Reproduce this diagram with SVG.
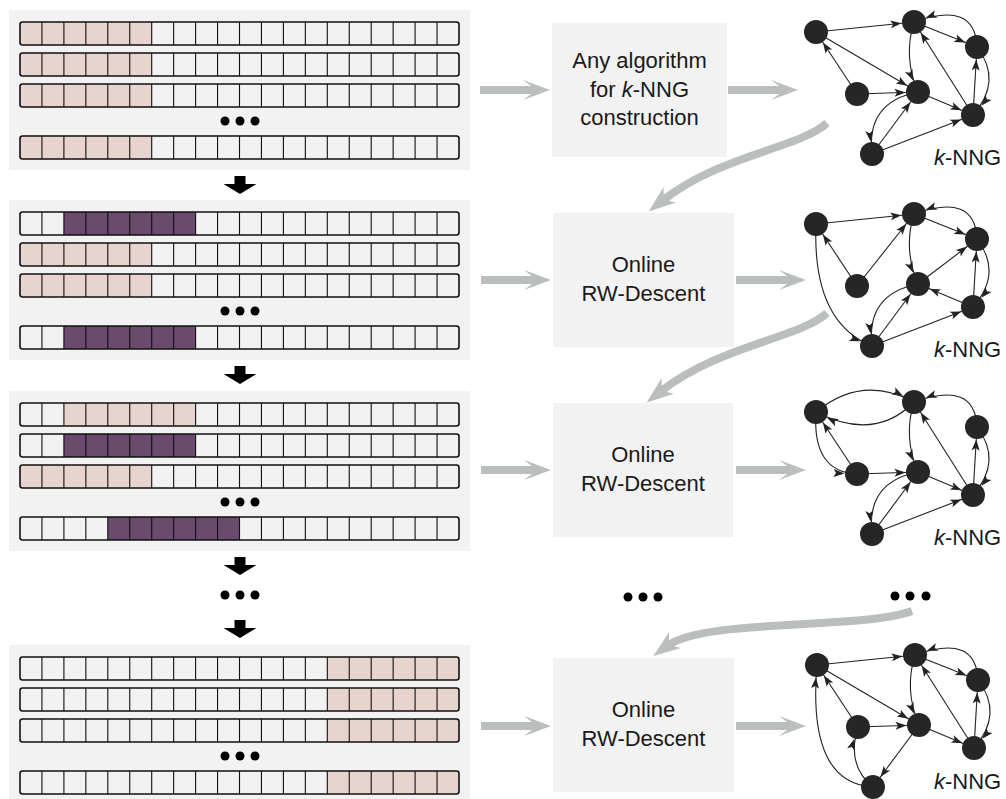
<svg xmlns="http://www.w3.org/2000/svg" xmlns:xlink="http://www.w3.org/1999/xlink" width="1006" height="799" viewBox="0 0 1006 799">
  <style>
    .panel { fill: #F2F2F2; }
    .box { fill: #F2F2F2; }
    .pink { fill: #E8D4CF; }
    .purple { fill: #6A4A6D; }
    .grid { fill: none; stroke: #111; stroke-width: 1.1; }
    .outline { fill: none; stroke: #111; stroke-width: 1.6; }
    .dot { fill: #000; }
    .lbl { font-family: "Liberation Sans", Arial, sans-serif; font-size: 22px; fill: #1a1a1a; text-anchor: middle; }
    .glbl { font-family: "Liberation Sans", Arial, sans-serif; font-size: 22px; fill: #1a1a1a; }
    .node { fill: #262626; }
    .edge { fill: none; stroke: #222; stroke-width: 1.1; marker-end: url(#ah); }
    .flow { fill: #BABFBD; }
    .bend { fill: none; stroke: #BABFBD; stroke-width: 8; marker-end: url(#gh); }
  </style>
  <defs>
    <!-- small black arrowhead, tip pulled back by the node radius -->
    <marker id="ah" markerUnits="userSpaceOnUse" markerWidth="12" markerHeight="8" refX="23.5" refY="4" orient="auto" overflow="visible">
      <path d="M0,0 L11,4 L0,8 L2.5,4 Z" fill="#222"/>
    </marker>
    <!-- grey stealth head for the bent flow arrows -->
    <marker id="gh" markerUnits="userSpaceOnUse" markerWidth="27" markerHeight="20" refX="10" refY="0" orient="auto" overflow="visible">
      <path d="M0,-10 L27,0 L0,10 L8,0 Z" fill="#BABFBD"/>
    </marker>
    <!-- one memory row: outline plus 19 dividers -->
    <g id="rowgrid">
      <path class="grid" d="M41.95,0V23M63.9,0V23M85.85,0V23M107.8,0V23M129.75,0V23M151.7,0V23M173.65,0V23M195.6,0V23M217.55,0V23M239.5,0V23M261.45,0V23M283.4,0V23M305.35,0V23M327.3,0V23M349.25,0V23M371.2,0V23M393.15,0V23M415.1,0V23M437.05,0V23"/>
      <rect class="outline" x="20" y="0" width="439" height="23" rx="2.5"/>
    </g>
    <g id="vdots">
      <circle class="dot" cx="225" cy="0" r="4.5"/>
      <circle class="dot" cx="240" cy="0" r="4.5"/>
      <circle class="dot" cx="255" cy="0" r="4.5"/>
    </g>
    <path id="down" d="M234.5,0 H245.5 V8 H256.5 L240,18 L223.5,8 H234.5 Z" fill="#000"/>
    <path id="harrow" class="flow" d="M-70,-4 H-19 L-27,-10 L0,0 L-27,10 L-19,4 H-70 Z"/>
  </defs>

  <!-- memory panels -->
  <g id="panel1">
    <rect class="panel" x="9" y="10" width="461" height="160"/>
    <rect class="pink" x="20" y="22" width="131.7" height="23"/>
    <rect class="pink" x="20" y="53" width="131.7" height="23"/>
    <rect class="pink" x="20" y="84" width="131.7" height="23"/>
    <rect class="pink" x="20" y="136" width="131.7" height="23"/>
    <use href="#rowgrid" y="22"/>
    <use href="#rowgrid" y="53"/>
    <use href="#rowgrid" y="84"/>
    <use href="#vdots" y="121"/>
    <use href="#rowgrid" y="136"/>
  </g>
  <g id="panel2">
    <rect class="panel" x="9" y="200" width="461" height="160"/>
    <rect class="purple" x="63.9" y="212" width="131.7" height="23"/>
    <rect class="pink" x="20" y="243" width="131.7" height="23"/>
    <rect class="pink" x="20" y="274" width="131.7" height="23"/>
    <rect class="purple" x="63.9" y="326" width="131.7" height="23"/>
    <use href="#rowgrid" y="212"/>
    <use href="#rowgrid" y="243"/>
    <use href="#rowgrid" y="274"/>
    <use href="#vdots" y="311"/>
    <use href="#rowgrid" y="326"/>
  </g>
  <g id="panel3">
    <rect class="panel" x="9" y="391" width="461" height="160"/>
    <rect class="pink" x="63.9" y="403" width="131.7" height="23"/>
    <rect class="purple" x="63.9" y="434" width="131.7" height="23"/>
    <rect class="pink" x="20" y="465" width="131.7" height="23"/>
    <rect class="purple" x="107.8" y="517" width="131.7" height="23"/>
    <use href="#rowgrid" y="403"/>
    <use href="#rowgrid" y="434"/>
    <use href="#rowgrid" y="465"/>
    <use href="#vdots" y="502"/>
    <use href="#rowgrid" y="517"/>
  </g>
  <g id="panel4">
    <rect class="panel" x="9" y="645" width="461" height="154"/>
    <rect class="pink" x="327.3" y="657" width="131.7" height="23"/>
    <rect class="pink" x="327.3" y="688" width="131.7" height="23"/>
    <rect class="pink" x="327.3" y="719" width="131.7" height="23"/>
    <rect class="pink" x="327.3" y="771" width="131.7" height="23"/>
    <use href="#rowgrid" y="657"/>
    <use href="#rowgrid" y="688"/>
    <use href="#rowgrid" y="719"/>
    <use href="#vdots" y="756"/>
    <use href="#rowgrid" y="771"/>
  </g>

  <!-- step arrows between panels -->
  <g id="steps">
    <use href="#down" y="176"/>
    <use href="#down" y="366"/>
    <use href="#down" y="557"/>
    <use href="#vdots" y="595"/>
    <use href="#down" y="620"/>
  </g>

  <!-- processing boxes -->
  <g id="box1">
    <rect class="box" x="552" y="23" width="175" height="134"/>
    <text class="lbl" x="639.5" y="68">Any algorithm</text>
    <text class="lbl" x="639.5" y="97">for <tspan font-style="italic">k</tspan>-NNG</text>
    <text class="lbl" x="639.5" y="125">construction</text>
  </g>
  <g id="box2">
    <rect class="box" x="553" y="213" width="181" height="134"/>
    <text class="lbl" x="643.5" y="272">Online</text>
    <text class="lbl" x="643.5" y="301">RW-Descent</text>
  </g>
  <g id="box3">
    <rect class="box" x="553" y="403" width="180" height="134"/>
    <text class="lbl" x="643" y="462">Online</text>
    <text class="lbl" x="643" y="491">RW-Descent</text>
  </g>
  <g id="box4">
    <rect class="box" x="553" y="658" width="181" height="134"/>
    <text class="lbl" x="643.5" y="717">Online</text>
    <text class="lbl" x="643.5" y="746">RW-Descent</text>
  </g>
  <g id="middots">
    <circle class="dot" cx="628" cy="597" r="4.5"/>
    <circle class="dot" cx="643" cy="597" r="4.5"/>
    <circle class="dot" cx="658" cy="597" r="4.5"/>
  </g>
  <g id="rightdots">
    <circle class="dot" cx="895" cy="596" r="4.5"/>
    <circle class="dot" cx="910" cy="596" r="4.5"/>
    <circle class="dot" cx="926" cy="596" r="4.5"/>
  </g>

  <!-- flow connectors -->
  <g id="connectors">
    <use href="#harrow" x="550" y="90"/>
    <use href="#harrow" x="798" y="90"/>
    <use href="#harrow" x="551" y="280"/>
    <use href="#harrow" x="806" y="280"/>
    <use href="#harrow" x="551" y="470"/>
    <use href="#harrow" x="806" y="470"/>
    <use href="#harrow" x="551" y="726"/>
    <use href="#harrow" x="806" y="726"/>
    <path class="bend" d="M827,123 C800,148 720,155 662,201"/>
    <path class="bend" d="M827,313 C800,338 720,345 660,392"/>
    <path class="bend" d="M912,611 C860,630 705,618 667,646"/>
  </g>

  <!-- k-NNG graphs -->
  <g id="graph1">
    <g class="edges">
      <path class="edge" d="M816,32 L914,22"/>
      <path class="edge" d="M816,32 L918,92"/>
      <path class="edge" d="M857,94 L816,32"/>
      <path class="edge" d="M857,94 L918,92"/>
      <path class="edge" d="M914,22 Q903,57 918,92"/>
      <path class="edge" d="M973,115 L914,22"/>
      <path class="edge" d="M914,22 L977,47"/>
      <path class="edge" d="M977,47 Q975,0 914,22"/>
      <path class="edge" d="M977,47 Q1003,81 973,115"/>
      <path class="edge" d="M973,115 L977,47"/>
      <path class="edge" d="M918,92 L973,115"/>
      <path class="edge" d="M918,92 Q866,102 872,154"/>
      <path class="edge" d="M872,154 L918,92"/>
      <path class="edge" d="M872,154 L973,115"/>
    </g>
    <circle class="node" cx="816" cy="32" r="12"/>
    <circle class="node" cx="914" cy="22" r="12"/>
    <circle class="node" cx="977" cy="47" r="12"/>
    <circle class="node" cx="857" cy="94" r="12"/>
    <circle class="node" cx="918" cy="92" r="12"/>
    <circle class="node" cx="973" cy="115" r="12"/>
    <circle class="node" cx="872" cy="154" r="12"/>
    <text class="glbl" x="934" y="165"><tspan font-style="italic">k</tspan>-NNG</text>
  </g>

  <g id="graph2" transform="translate(0,192)">
    <g class="edges">
      <path class="edge" d="M816,32 L914,22"/>
      <path class="edge" d="M857,94 L816,32"/>
      <path class="edge" d="M857,94 L914,22"/>
      <path class="edge" d="M816,32 Q812,130 872,154"/>
      <path class="edge" d="M914,22 Q903,57 918,92"/>
      <path class="edge" d="M914,22 L977,47"/>
      <path class="edge" d="M977,47 Q975,0 914,22"/>
      <path class="edge" d="M977,47 Q1003,81 973,115"/>
      <path class="edge" d="M973,115 L977,47"/>
      <path class="edge" d="M918,92 L977,47"/>
      <path class="edge" d="M973,115 L918,92"/>
      <path class="edge" d="M918,92 Q866,102 872,154"/>
      <path class="edge" d="M872,154 L918,92"/>
      <path class="edge" d="M872,154 L973,115"/>
    </g>
    <circle class="node" cx="816" cy="32" r="12"/>
    <circle class="node" cx="914" cy="22" r="12"/>
    <circle class="node" cx="977" cy="47" r="12"/>
    <circle class="node" cx="857" cy="94" r="12"/>
    <circle class="node" cx="918" cy="92" r="12"/>
    <circle class="node" cx="973" cy="115" r="12"/>
    <circle class="node" cx="872" cy="154" r="12"/>
    <text class="glbl" x="934" y="165"><tspan font-style="italic">k</tspan>-NNG</text>
  </g>

  <g id="graph3" transform="translate(0,380)">
    <g class="edges">
      <path class="edge" d="M816,32 Q862,-6 914,22"/>
      <path class="edge" d="M914,22 Q875,62 816,32"/>
      <path class="edge" d="M857,94 L816,32"/>
      <path class="edge" d="M816,32 Q812,92 857,94"/>
      <path class="edge" d="M857,94 L918,92"/>
      <path class="edge" d="M914,22 Q903,57 918,92"/>
      <path class="edge" d="M973,115 L914,22"/>
      <path class="edge" d="M977,47 Q975,0 914,22"/>
      <path class="edge" d="M973,115 L977,47"/>
      <path class="edge" d="M977,47 Q1003,81 973,115"/>
      <path class="edge" d="M918,92 L973,115"/>
      <path class="edge" d="M918,92 Q866,102 872,154"/>
      <path class="edge" d="M872,154 L918,92"/>
      <path class="edge" d="M872,154 L973,115"/>
    </g>
    <circle class="node" cx="816" cy="32" r="12"/>
    <circle class="node" cx="914" cy="22" r="12"/>
    <circle class="node" cx="977" cy="47" r="12"/>
    <circle class="node" cx="857" cy="94" r="12"/>
    <circle class="node" cx="918" cy="92" r="12"/>
    <circle class="node" cx="973" cy="115" r="12"/>
    <circle class="node" cx="872" cy="154" r="12"/>
    <text class="glbl" x="934" y="165"><tspan font-style="italic">k</tspan>-NNG</text>
  </g>

  <g id="graph4" transform="translate(1,633)">
    <g class="edges">
      <path class="edge" d="M816,32 L914,22"/>
      <path class="edge" d="M816,32 L918,92"/>
      <path class="edge" d="M857,94 L816,32"/>
      <path class="edge" d="M857,94 L918,92"/>
      <path class="edge" d="M872,154 Q806,150 816,32"/>
      <path class="edge" d="M872,154 Q845,132 857,94"/>
      <path class="edge" d="M918,92 L872,154"/>
      <path class="edge" d="M914,22 Q903,57 918,92"/>
      <path class="edge" d="M973,115 L914,22"/>
      <path class="edge" d="M914,22 L977,47"/>
      <path class="edge" d="M977,47 Q975,0 914,22"/>
      <path class="edge" d="M977,47 Q1003,81 973,115"/>
      <path class="edge" d="M973,115 L977,47"/>
      <path class="edge" d="M918,92 L973,115"/>
    </g>
    <circle class="node" cx="816" cy="32" r="12"/>
    <circle class="node" cx="914" cy="22" r="12"/>
    <circle class="node" cx="977" cy="47" r="12"/>
    <circle class="node" cx="857" cy="94" r="12"/>
    <circle class="node" cx="918" cy="92" r="12"/>
    <circle class="node" cx="973" cy="115" r="12"/>
    <circle class="node" cx="872" cy="154" r="12"/>
    <text class="glbl" x="933" y="156"><tspan font-style="italic">k</tspan>-NNG</text>
  </g>
</svg>
